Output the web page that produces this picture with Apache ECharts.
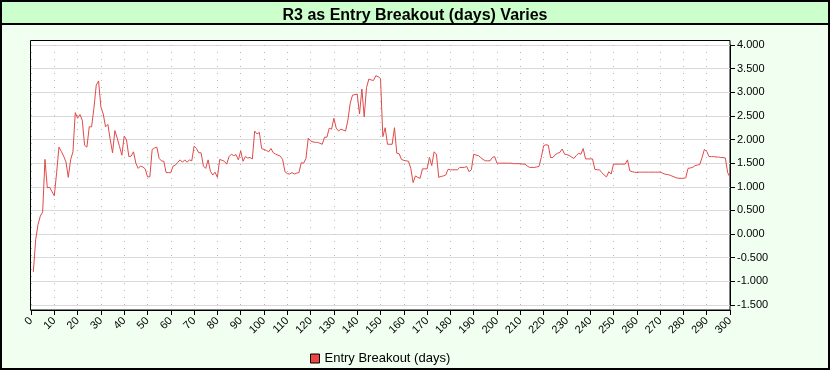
<!DOCTYPE html>
<html>
<head>
<meta charset="utf-8">
<script src="https://cdn.jsdelivr.net/npm/echarts@6/dist/echarts.min.js"></script>
<style>
html,body{margin:0;padding:0;background:#fff;}
#chart{width:830px;height:370px;}
</style>
</head>
<body>
<div id="chart"></div>
<script>
var titleText = 'R3 as Entry Breakout (days) Varies';
var seriesName = 'Entry Breakout (days)';
var yTicks = [-1.5, -1.0, -0.5, 0.0, 0.5, 1.0, 1.5, 2.0, 2.5, 3.0, 3.5, 4.0];
var xMin = 0, xMax = 300, xStep = 10;
// R3 value for each breakout length, days 1..300
var r3 = [
  -0.80, -0.12, 0.20, 0.38, 0.47, 1.58, 0.98, 0.99, 0.90, 0.81,
  1.30, 1.84, 1.75, 1.65, 1.53, 1.20, 1.57, 1.74, 2.57, 2.45,
  2.53, 2.41, 1.88, 1.84, 2.27, 2.27, 2.66, 3.15, 3.24, 2.69,
  2.54, 2.27, 2.32, 2.00, 1.72, 2.19, 2.03, 1.85, 1.67, 2.07,
  1.99, 1.64, 1.65, 1.74, 1.50, 1.39, 1.44, 1.42, 1.38, 1.21,
  1.21, 1.79, 1.82, 1.84, 1.60, 1.55, 1.54, 1.30, 1.30, 1.30,
  1.44, 1.46, 1.52, 1.57, 1.52, 1.57, 1.52, 1.57, 1.55, 1.86,
  1.81, 1.72, 1.72, 1.44, 1.39, 1.57, 1.33, 1.25, 1.31, 1.20,
  1.58, 1.56, 1.54, 1.48, 1.64, 1.69, 1.66, 1.68, 1.57, 1.76,
  1.54, 1.64, 1.61, 1.62, 1.59, 2.18, 2.12, 2.15, 1.81, 1.79,
  1.77, 1.74, 1.81, 1.72, 1.69, 1.67, 1.65, 1.58, 1.32, 1.28,
  1.27, 1.30, 1.27, 1.29, 1.30, 1.51, 1.50, 1.60, 2.03, 1.97,
  1.95, 1.94, 1.94, 1.92, 1.90, 2.05, 2.05, 2.24, 2.22, 2.45,
  2.24, 2.18, 2.22, 2.20, 2.18, 2.41, 2.77, 2.94, 2.95, 2.96,
  2.54, 3.07, 2.48, 3.10, 3.28, 3.26, 3.25, 3.35, 3.33, 3.29,
  2.06, 2.25, 1.90, 1.90, 1.90, 2.25, 1.71, 1.70, 1.58, 1.56,
  1.55, 1.54, 1.39, 1.09, 1.23, 1.20, 1.18, 1.38, 1.38, 1.38,
  1.62, 1.45, 1.74, 1.69, 1.20, 1.22, 1.23, 1.25, 1.37, 1.36,
  1.36, 1.36, 1.36, 1.41, 1.41, 1.41, 1.43, 1.32, 1.36, 1.69,
  1.67, 1.66, 1.62, 1.58, 1.55, 1.55, 1.55, 1.62, 1.64, 1.50,
  1.50, 1.50, 1.50, 1.50, 1.50, 1.50, 1.49, 1.49, 1.49, 1.49,
  1.48, 1.48, 1.44, 1.41, 1.41, 1.41, 1.42, 1.43, 1.62, 1.87,
  1.89, 1.88, 1.62, 1.62, 1.68, 1.71, 1.73, 1.80, 1.69, 1.68,
  1.66, 1.63, 1.60, 1.66, 1.71, 1.69, 1.81, 1.59, 1.59, 1.59,
  1.59, 1.37, 1.36, 1.36, 1.30, 1.25, 1.21, 1.32, 1.27, 1.48,
  1.48, 1.48, 1.48, 1.48, 1.48, 1.57, 1.34, 1.32, 1.31, 1.30,
  1.31, 1.31, 1.31, 1.31, 1.31, 1.31, 1.31, 1.31, 1.31, 1.31,
  1.29, 1.27, 1.26, 1.25, 1.23, 1.21, 1.19, 1.18, 1.18, 1.18,
  1.19, 1.39, 1.40, 1.41, 1.45, 1.46, 1.47, 1.62, 1.79, 1.75,
  1.64, 1.64, 1.64, 1.63, 1.63, 1.62, 1.62, 1.61, 1.30, 1.20
];

var points = r3.map(function (v, i) { return [i + 1, v]; });
var FONT = '"Liberation Sans", Arial, sans-serif';

var chart = echarts.init(document.getElementById('chart'), null, {renderer: 'canvas', width: 830, height: 370});
chart.setOption({
  animation: false,
  backgroundColor: '#F0FFF0',
  graphic: [
    {type: 'rect', z: -20, silent: true, shape: {x: 1, y: 1, width: 828, height: 368},
      style: {fill: '#F0FFF0', stroke: '#000', lineWidth: 2}},
    {type: 'rect', z: -19, silent: true, shape: {x: 1, y: 1, width: 828, height: 23},
      style: {fill: '#CCFFCC', stroke: '#000', lineWidth: 2}},
    {type: 'rect', z: -18, silent: true, shape: {x: 30.5, y: 40.5, width: 699.5, height: 269.5},
      style: {fill: '#FFFFFF', stroke: '#000', lineWidth: 1}}
  ],
  title: {
    text: titleText, left: 'center', top: 3,
    textStyle: {fontFamily: FONT, fontSize: 16, fontWeight: 'bold', color: '#000'}
  },
  legend: {
    data: [{name: seriesName, icon: 'rect'}],
    left: 305, top: 347, itemWidth: 9, itemHeight: 9, itemGap: 10,
    itemStyle: {color: '#EE4444', borderColor: '#000', borderWidth: 1},
    textStyle: {fontFamily: FONT, fontSize: 13, color: '#000'}
  },
  grid: {left: 31, right: 100, top: 45, bottom: 65, containLabel: false},
  xAxis: {
    type: 'value', min: xMin, max: xMax, interval: xStep, offset: 5,
    axisLine: {show: true, onZero: false, lineStyle: {color: '#000', width: 1}},
    axisTick: {show: true, length: 5, lineStyle: {color: '#000'}},
    axisLabel: {rotate: 45, margin: 9, fontFamily: FONT, fontSize: 11, color: '#000'},
    splitLine: {show: true, lineStyle: {color: '#B8B8B8', width: 1, type: [1, 6]}}
  },
  yAxis: {
    type: 'value', position: 'right', min: yTicks[0], max: yTicks[yTicks.length - 1], interval: 0.5,
    axisLine: {show: true, onZero: false, lineStyle: {color: '#000', width: 1}},
    axisTick: {show: true, length: 5, lineStyle: {color: '#000'}},
    axisLabel: {margin: 7, fontFamily: FONT, fontSize: 11, color: '#000',
      formatter: function (v) { return v.toFixed(3); }},
    splitLine: {show: true, lineStyle: {color: '#DADADA', width: 1}}
  },
  series: [{
    name: seriesName, type: 'line', data: points, showSymbol: false, symbol: 'none',
    lineStyle: {color: '#E04A4A', width: 1}, itemStyle: {color: '#EE4444'}
  }]
});
</script>
</body>
</html>
